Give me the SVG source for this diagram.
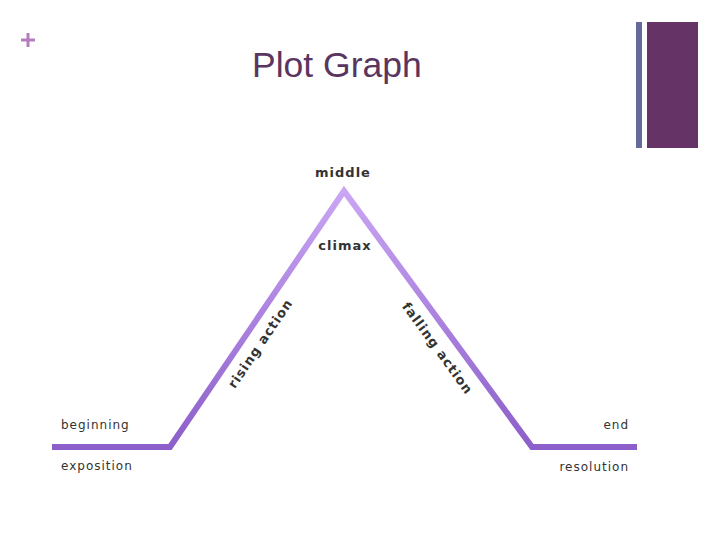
<svg xmlns="http://www.w3.org/2000/svg" width="720" height="540" viewBox="0 0 720 540">
<style>
.lbl{font-family:"DejaVu Sans",sans-serif;font-size:12px;fill:#333;letter-spacing:1px}
.bl{font-family:"DejaVu Sans",sans-serif;font-size:13px;font-weight:bold;fill:#333;letter-spacing:1px}
</style>
<defs>
<linearGradient id="g" x1="0" y1="190" x2="0" y2="450" gradientUnits="userSpaceOnUse">
<stop offset="0" stop-color="#caa6f4"/>
<stop offset="1" stop-color="#8b5ec9"/>
</linearGradient>
</defs>
<rect width="720" height="540" fill="#fff"/>
<g id="decor">
<path d="M21 40H35M28 33V47" stroke="#b57cc0" stroke-width="3"/>
<rect x="636" y="22" width="6" height="126" fill="#666a9a"/>
<rect x="647" y="22" width="51" height="126" fill="#663366"/>
</g>
<text id="title" x="252" y="77" font-family="Liberation Sans,Arial,sans-serif" font-size="35.5" fill="#5a3560">Plot Graph</text>
<g id="connectors">
<polyline points="52,447 170,447 344,191 532,447 637,447" fill="none" stroke="url(#g)" stroke-width="6" stroke-linejoin="miter"/>
</g>
<g id="middle"><text class="bl" x="343" y="177" text-anchor="middle">middle</text></g>
<g id="climax"><text class="bl" x="345" y="250" text-anchor="middle">climax</text></g>
<g id="rising"><text class="bl" transform="translate(264,346) rotate(-56)" text-anchor="middle">rising action</text></g>
<g id="falling"><text class="bl" transform="translate(434,351) rotate(54)" text-anchor="middle">falling action</text></g>
<g id="beginning"><text class="lbl" x="61" y="429">beginning</text></g>
<g id="exposition"><text class="lbl" x="61" y="470">exposition</text></g>
<g id="end"><text class="lbl" x="629" y="429" text-anchor="end">end</text></g>
<g id="resolution"><text class="lbl" x="629" y="471" text-anchor="end">resolution</text></g>
</svg>
